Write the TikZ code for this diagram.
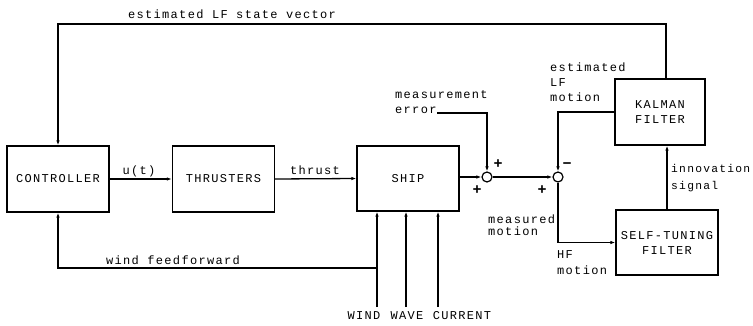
\documentclass[tikz,border=0pt]{standalone}
\usepackage{fontspec}
\newfontfamily\diagfont[LetterSpace=11]{Liberation Mono}
\usetikzlibrary{arrows.meta,positioning,calc}
\begin{document}
\begin{tikzpicture}[x=1pt,y=-1pt,
    every node/.style={font=\diagfont\fontsize{12}{15}\selectfont},
    blk/.style={draw, line width=1.3pt, minimum width=102pt, minimum height=66pt, inner sep=0pt, align=center},
    sumpt/.style={draw, circle, line width=1.2pt, minimum size=10pt, inner sep=0pt},
    sgn/.style={font=\diagfont\fontsize{15}{15}\bfseries, inner sep=0pt},
    lbl/.style={inner sep=0pt, align=left},
    arr/.style={-{Latex[length=5pt,width=3.5pt]}, line width=1.3pt}]
    \useasboundingbox (0,0) rectangle (753,326);

    % blocks
    \node[blk] (ctrl) at (58,179) {CONTROLLER};
    \node[blk] (thr) at (223.5,179) {THRUSTERS};
    \node[blk, minimum height=65pt] (ship) at (408,178.5) {SHIP};
    \node[blk, minimum width=90pt] (kal) at (660,112) {KALMAN\\FILTER};
    \node[blk, minimum height=65pt] (stf) at (667,242.5) {SELF-TUNING\\FILTER};

    % summing points
    \node[sumpt] (s1) at (487,177) {};
    \node[sumpt] (s2) at (558,177) {};

    % forward path
    \draw[arr] (ctrl.east) -- (thr.west);
    \node (ut) at (139,171) {u(t)};
    \draw[arr] (thr.east) -- (ship.west);
    \node (thrust) at (315,170) {thrust};
    \draw[arr] (ship.east |- s1) -- (s1);
    \draw[arr] (s1) -- (s2);

    % measurement error
    \node[lbl, anchor=north west] (merr) at (395,90) {measurement\\error};
    \coordinate (me) at (437,113);
    \draw[arr] (me) -| (s1);
    \node[sgn] (p1a) at (498,164) {+};
    \node[sgn] (p1b) at (477,190) {+};

    % estimated LF motion
    \draw[arr] (kal.west) -| (s2);
    \node[lbl, anchor=north west] (lfm) at (550,63) {estimated\\LF\\motion};
    \node[sgn] (m2) at (567,166) {−};
    \node[sgn] (p2b) at (542,190) {+};
    \node[lbl, anchor=north west] (mm) at (488,215) {measured\\[-3pt]motion};

    % HF motion
    \draw[arr] (s2) |- (stf.west);
    \node[lbl, anchor=north west] (hfm) at (557,250) {HF\\[1pt]motion};

    % innovation signal
    \draw[arr] (stf.north) -- (stf.north |- kal.south);
    \node[lbl, anchor=west, font=\diagfont\fontsize{11.3}{15}\selectfont] (inn) at (671,178) {innovation\\[2pt]signal};

    % state vector feedback
    \coordinate (tl) at (ctrl.north |- 0,24);
    \draw[arr] ([xshift=6pt]kal.north) |- (tl) -- (ctrl.north);
    \node (est) at (232,14) {estimated LF state vector};

    % disturbances
    \coordinate (wnd) at (377,307);
    \coordinate (wav) at (406,307);
    \coordinate (cur) at (438,307);
    \foreach \c in {wnd,wav,cur}
        \draw[arr] (\c) -- (\c |- ship.south);
    \node (wndl) at (364,316) {WIND};
    \node (wavl) at (407,316) {WAVE};
    \node (curl) at (462,316) {CURRENT};

    % wind feedforward
    \draw[arr] (wnd |- 0,268) -| (ctrl.south);
    \node (wff) at (173,260) {wind feedforward};
\end{tikzpicture}
\end{document}
